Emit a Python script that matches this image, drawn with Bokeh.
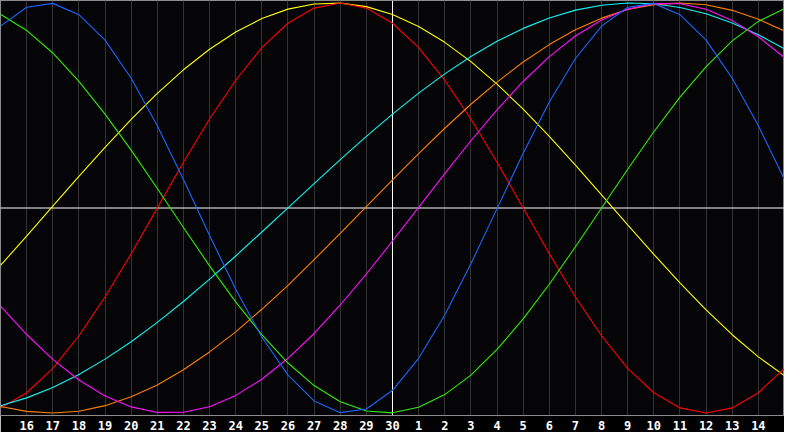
from bokeh.plotting import figure
from bokeh.models import Range1d, FixedTicker, Span
from bokeh.embed import file_html
from bokeh.resources import INLINE

# day index 0..30 (left edge .. right edge); ticks at 1..29
day_labels = [str(d) for d in range(16, 31)] + [str(d) for d in range(1, 15)]
days = list(range(0, 31))

blue = [0.887, 0.979, 0.998, 0.943, 0.819, 0.633, 0.401, 0.139, -0.134, -0.396, -0.629,
        -0.815, -0.941, -0.998, -0.980, -0.889, -0.733, -0.522, -0.272, -0.003, 0.267,
        0.517, 0.729, 0.887, 0.979, 0.998, 0.943, 0.819, 0.633, 0.401, 0.139]
red = [-0.975, -0.901, -0.782, -0.623, -0.434, -0.223, 0.0, 0.223, 0.434, 0.623, 0.782,
       0.901, 0.975, 1.0, 0.975, 0.901, 0.782, 0.623, 0.434, 0.223, 0.0,
       -0.223, -0.434, -0.623, -0.782, -0.901, -0.975, -1.0, -0.975, -0.901, -0.782]
green = [0.945, 0.866, 0.756, 0.618, 0.458, 0.282, 0.095, -0.095, -0.282, -0.458, -0.618,
         -0.756, -0.866, -0.945, -0.990, -0.999, -0.972, -0.910, -0.815, -0.690, -0.541,
         -0.372, -0.189, 0.0, 0.189, 0.372, 0.541, 0.690, 0.815, 0.910, 0.972]
yellow = [-0.28, -0.137, 0.009, 0.154, 0.296, 0.432, 0.559, 0.674, 0.774, 0.858, 0.924,
          0.97, 0.995, 0.999, 0.982, 0.944, 0.885, 0.808, 0.714, 0.604, 0.482, 0.349,
          0.209, 0.064, -0.082, -0.226, -0.365, -0.497, -0.618, -0.726, -0.818]
magenta = [-0.479, -0.617, -0.738, -0.839, -0.917, -0.97, -0.997, -0.996, -0.969, -0.914,
           -0.835, -0.733, -0.612, -0.473, -0.322, -0.161, 0.003, 0.168, 0.328, 0.479,
           0.617, 0.738, 0.839, 0.917, 0.97, 0.997, 0.996, 0.969, 0.914, 0.835, 0.733]
orange = [-0.968, -0.992, -1.0, -0.991, -0.964, -0.921, -0.863, -0.789, -0.702, -0.604,
          -0.494, -0.377, -0.252, -0.124, 0.007, 0.137, 0.265, 0.389, 0.506, 0.614, 0.712,
          0.797, 0.869, 0.926, 0.968, 0.992, 1.0, 0.991, 0.964, 0.921, 0.863]
cyan = [-0.964, -0.926, -0.875, -0.812, -0.737, -0.652, -0.558, -0.456, -0.347, -0.234,
        -0.117, 0.001, 0.119, 0.236, 0.349, 0.458, 0.56, 0.654, 0.739, 0.813, 0.876, 0.927,
        0.965, 0.989, 1.0, 0.996, 0.978, 0.947, 0.902, 0.845, 0.776]

series = [
    (yellow, "#ffff00"),
    (red, "#ff0000"),
    (cyan, "#10f4f4"),
    (orange, "#ff8000"),
    (magenta, "#ff10ff"),
    (green, "#30ee00"),
    (blue, "#1a66ff"),
]

p = figure(width=784, height=432, output_backend="svg", toolbar_location=None,
           x_range=Range1d(0, 30), y_range=Range1d(-1.012, 1.012),
           y_axis_location=None, min_border=0)
p.background_fill_color = "#050508"
p.border_fill_color = "#000000"
p.outline_line_color = "#8c8c8c"

ticks = list(range(1, 30))
p.xaxis.ticker = FixedTicker(ticks=ticks)
p.xaxis.major_label_overrides = {t: lab for t, lab in zip(ticks, day_labels)}
p.xaxis.major_tick_line_color = None
p.xaxis.minor_tick_line_color = None
p.xaxis.major_tick_out = 0
p.xaxis.major_tick_in = 0
p.xaxis.axis_line_color = "#8c8c8c"
p.xaxis.major_label_text_color = "#ffffff"
p.xaxis.major_label_text_font = "DejaVu Sans Mono"
p.xaxis.major_label_text_font_style = "bold"
p.xaxis.major_label_text_font_size = "12px"
p.xaxis.major_label_standoff = 5

p.xgrid.ticker = FixedTicker(ticks=ticks)
p.xgrid.grid_line_color = "#333333"
p.ygrid.visible = False

p.add_layout(Span(location=15, dimension="height", line_color="#ffffff",
                  line_width=1, level="underlay"))
p.add_layout(Span(location=0, dimension="width", line_color="#ffffff",
                  line_width=1, level="underlay"))

for vals, col in series:
    p.line(days, vals, line_color=col, line_width=1.1)

open("out.html", "w").write(file_html(p, INLINE))
